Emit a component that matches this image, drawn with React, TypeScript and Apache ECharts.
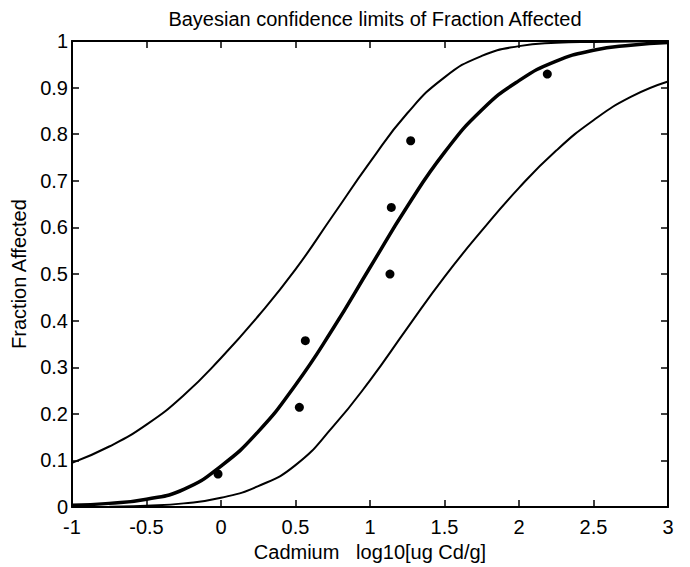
import React, { useEffect, useRef } from "react";
import * as echarts from "echarts";

const titleText = "Bayesian confidence limits of Fraction Affected";
const xName = "Cadmium   log10[ug Cd/g]";
const yName = "Fraction Affected";

const curveX = [-1, -0.75, -0.5, -0.25, 0, 0.25, 0.5, 0.75, 1, 1.25, 1.5, 1.75, 2, 2.25, 2.5, 2.75, 3];
const upperY = [0.095, 0.13, 0.177, 0.24, 0.32, 0.41, 0.51, 0.625, 0.74, 0.845, 0.922, 0.968, 0.989, 0.996, 0.998, 0.999, 1.0];
const middleY = [0.004, 0.008, 0.017, 0.038, 0.088, 0.162, 0.262, 0.382, 0.514, 0.645, 0.761, 0.852, 0.915, 0.957, 0.98, 0.991, 0.997];
const lowerY = [0.0, 0.001, 0.003, 0.008, 0.02, 0.045, 0.09, 0.172, 0.272, 0.384, 0.494, 0.593, 0.685, 0.765, 0.83, 0.88, 0.913];

const obsX = [-0.02, 0.526, 0.566, 1.134, 1.143, 1.273, 2.19];
const obsY = [0.071, 0.214, 0.357, 0.5, 0.643, 0.786, 0.929];

const FONT = "'Liberation Sans', Arial, Helvetica, sans-serif";

export default function App() {
  const ref = useRef<HTMLDivElement>(null);
  useEffect(() => {
    document.body.style.margin = "0";
    if (!ref.current) return;
    const chart = echarts.init(ref.current, undefined, { renderer: "svg" });
    const pair = (xs: number[], ys: number[]) => xs.map((x, i) => [x, ys[i]]);
    const axisLine = { show: true, onZero: false, lineStyle: { color: "#000", width: 2 } };
    const axisTick = { show: true, inside: true, length: 7, lineStyle: { color: "#000", width: 1.5 } };
    const labelStyle = { color: "#000", fontSize: 20, fontFamily: FONT };
    const curve = (ys: number[], width: number) => ({
      type: "line",
      data: pair(curveX, ys),
      smooth: 0.5,
      showSymbol: false,
      lineStyle: { color: "#000", width },
      silent: true,
    });
    chart.setOption({
      animation: false,
      backgroundColor: "#fff",
      title: {
        text: titleText,
        left: 370,
        top: 4,
        textAlign: "center",
        textStyle: { color: "#000", fontSize: 20, fontWeight: "normal", fontFamily: FONT },
      },
      grid: { left: 72, right: 22, top: 41, bottom: 57 },
      xAxis: [
        {
          type: "value",
          min: -1,
          max: 3,
          interval: 0.5,
          position: "bottom",
          name: xName,
          nameLocation: "middle",
          nameGap: 30,
          nameTextStyle: { color: "#000", fontSize: 20, fontFamily: FONT },
          axisLine,
          axisTick,
          axisLabel: { ...labelStyle, margin: 10 },
          splitLine: { show: false },
        },
        {
          type: "value",
          min: -1,
          max: 3,
          interval: 0.5,
          position: "top",
          axisLine,
          axisTick,
          axisLabel: { show: false },
          splitLine: { show: false },
        },
      ],
      yAxis: [
        {
          type: "value",
          min: 0,
          max: 1,
          interval: 0.1,
          position: "left",
          name: yName,
          nameLocation: "middle",
          nameGap: 38,
          nameTextStyle: { color: "#000", fontSize: 20, fontFamily: FONT },
          axisLine,
          axisTick,
          axisLabel: { ...labelStyle, margin: 4 },
          splitLine: { show: false },
        },
        {
          type: "value",
          min: 0,
          max: 1,
          interval: 0.1,
          position: "right",
          axisLine,
          axisTick,
          axisLabel: { show: false },
          splitLine: { show: false },
        },
      ],
      series: [
        curve(upperY, 2),
        curve(middleY, 3.5),
        curve(lowerY, 2),
        {
          type: "scatter",
          data: pair(obsX, obsY),
          symbol: "circle",
          symbolSize: 9,
          itemStyle: { color: "#000", opacity: 1 },
        },
      ],
    });
    return () => chart.dispose();
  }, []);
  return <div ref={ref} style={{ width: 690, height: 567 }} />;
}
